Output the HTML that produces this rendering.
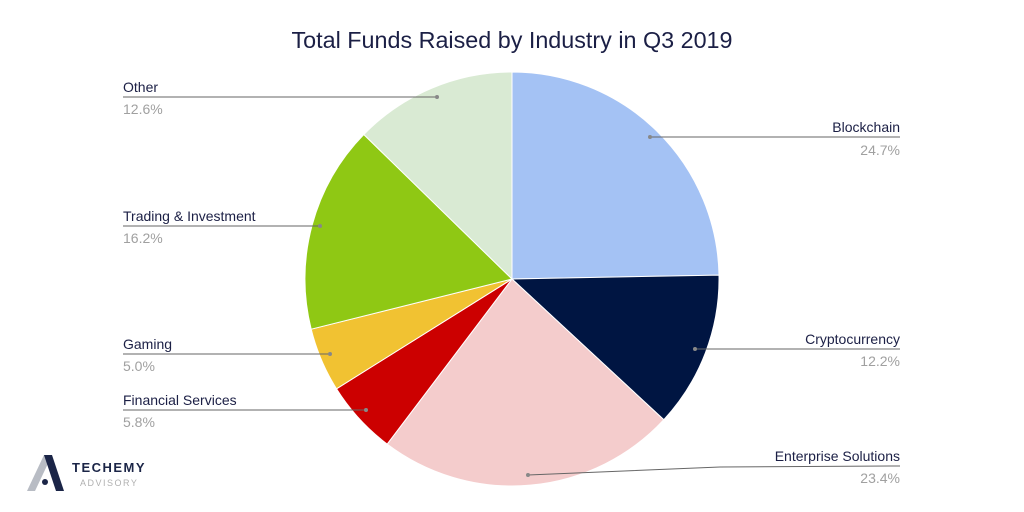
<!DOCTYPE html>
<html><head><meta charset="utf-8"><style>
html,body{margin:0;padding:0;background:#fff;}
svg{display:block;font-family:"Liberation Sans",sans-serif;}
.n{font-size:14px;fill:#1b1f45;}
.p{font-size:14px;fill:#a0a0a0;}
</style></head><body>
<svg width="1024" height="512" viewBox="0 0 1024 512">
<rect width="1024" height="512" fill="#fff"/>
<text x="512" y="48" text-anchor="middle" font-size="23" fill="#1b1f45" textLength="441" lengthAdjust="spacingAndGlyphs">Total Funds Raised by Industry in Q3 2019</text>
<g stroke="#fff" stroke-width="1">
<path d="M512,279 L512,72 A207,207 0 0 1 719,275.1 Z" fill="#a4c2f4"/>
<path d="M512,279 L719,275.1 A207,207 0 0 1 663.8,419.7 Z" fill="#001542"/>
<path d="M512,279 L663.8,419.7 A207,207 0 0 1 387.2,444.1 Z" fill="#f4cccc"/>
<path d="M512,279 L387.2,444.1 A207,207 0 0 1 336.5,388.8 Z" fill="#cc0000"/>
<path d="M512,279 L336.5,388.8 A207,207 0 0 1 311.2,329.2 Z" fill="#f1c232"/>
<path d="M512,279 L311.2,329.2 A207,207 0 0 1 363.8,134.5 Z" fill="#8fc814"/>
<path d="M512,279 L363.8,134.5 A207,207 0 0 1 512,72 Z" fill="#d9ead3"/>
</g>
<g stroke="#666" stroke-width="1" fill="none">
<polyline points="650,137 900,137"/>
<polyline points="695,349 900,349"/>
<polyline points="528,475 720,467 900,466"/>
<polyline points="123,97 437,97"/>
<polyline points="123,226 320,226"/>
<polyline points="123,354 330,354"/>
<polyline points="123,410 366,410"/>
</g>
<g fill="#888">
<circle cx="650" cy="137" r="2"/><circle cx="695" cy="349" r="2"/><circle cx="528" cy="475" r="2"/>
<circle cx="437" cy="97" r="2"/><circle cx="320" cy="226" r="2"/><circle cx="330" cy="354" r="2"/><circle cx="366" cy="410" r="2"/>
</g>
<g text-anchor="end">
<text class="n" x="900" y="132">Blockchain</text><text class="p" x="900" y="155">24.7%</text>
<text class="n" x="900" y="344">Cryptocurrency</text><text class="p" x="900" y="366">12.2%</text>
<text class="n" x="900" y="461">Enterprise Solutions</text><text class="p" x="900" y="483">23.4%</text>
</g>
<text class="n" x="123" y="92">Other</text><text class="p" x="123" y="114">12.6%</text>
<text class="n" x="123" y="221">Trading &amp; Investment</text><text class="p" x="123" y="243">16.2%</text>
<text class="n" x="123" y="349">Gaming</text><text class="p" x="123" y="371">5.0%</text>
<text class="n" x="123" y="405">Financial Services</text><text class="p" x="123" y="427">5.8%</text>
<!-- logo -->
<polygon points="27,491 44,455 52,455 35,491" fill="#b8bcc4"/>
<polygon points="44,455 52,455 64,491 56,491" fill="#1b2547"/>
<circle cx="45" cy="482" r="3" fill="#1b2547"/>
<text x="72" y="472" font-size="13" font-weight="bold" fill="#1b2547" letter-spacing="1.5">TECHEMY</text>
<text x="80" y="486" font-size="9" fill="#b0b0b0" letter-spacing="1.5">ADVISORY</text>
</svg>
</body></html>
